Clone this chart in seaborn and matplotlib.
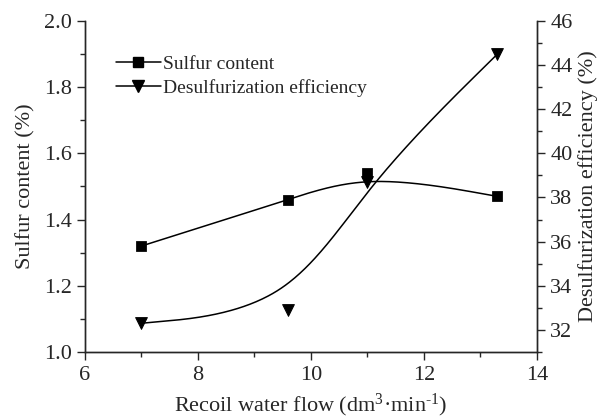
import numpy as np
import matplotlib
matplotlib.use("Agg")
import matplotlib.pyplot as plt
import seaborn as sns
from matplotlib.lines import Line2D
from matplotlib.ticker import MultipleLocator

flow = [7.0, 9.6, 11.0, 13.3]
sulfur = [1.32, 1.46, 1.54, 1.47]
efficiency = [32.3, 32.9, 38.7, 44.5]

sns.set_style("ticks")
plt.rcParams["font.family"] = ["Liberation Serif", "DejaVu Serif"]
plt.rcParams["mathtext.fontset"] = "custom"
plt.rcParams["mathtext.rm"] = "Liberation Serif"
plt.rcParams["mathtext.it"] = "Liberation Serif:italic"


def bspline3(xs, ys, n=80):
    # uniform cubic B-spline, end points repeated so the curve starts/ends on them
    qx = np.r_[[xs[0]] * 2, xs, [xs[-1]] * 2].astype(float)
    qy = np.r_[[ys[0]] * 2, ys, [ys[-1]] * 2].astype(float)
    t = np.linspace(0, 1, n)
    b0 = (1 - t) ** 3 / 6
    b1 = (3 * t ** 3 - 6 * t ** 2 + 4) / 6
    b2 = (-3 * t ** 3 + 3 * t ** 2 + 3 * t + 1) / 6
    b3 = t ** 3 / 6
    out_x, out_y = [], []
    for i in range(len(qx) - 3):
        out_x.append(b0 * qx[i] + b1 * qx[i + 1] + b2 * qx[i + 2] + b3 * qx[i + 3])
        out_y.append(b0 * qy[i] + b1 * qy[i + 1] + b2 * qy[i + 2] + b3 * qy[i + 3])
    return np.concatenate(out_x), np.concatenate(out_y)


sx, sy = bspline3(flow, sulfur)
ex, ey = bspline3(flow, efficiency)

fig = plt.figure(figsize=(6.02, 4.19), dpi=100)
ax = fig.add_axes([0.141, 0.160, 0.751, 0.790])
ax2 = ax.twinx()

sns.lineplot(x=sx, y=sy, ax=ax, color="black", lw=1.1, sort=False)
sns.scatterplot(x=flow, y=sulfur, ax=ax, marker="s", s=48, color="black", edgecolor="black", zorder=3)
sns.lineplot(x=ex, y=ey, ax=ax2, color="black", lw=1.1, sort=False)
sns.scatterplot(x=flow, y=efficiency, ax=ax2, marker="v", s=72, color="black", edgecolor="black", zorder=3)

ax.set_xlim(6, 14)
ax.set_ylim(1.0, 2.0)
ax2.set_ylim(31, 46)
ax.xaxis.set_major_locator(MultipleLocator(2))
ax.xaxis.set_minor_locator(MultipleLocator(1))
ax.yaxis.set_major_locator(MultipleLocator(0.2))
ax.yaxis.set_minor_locator(MultipleLocator(0.1))
ax2.set_yticks([32, 34, 36, 38, 40, 42, 44, 46])
ax2.yaxis.set_minor_locator(MultipleLocator(1))

for a in (ax, ax2):
    a.spines["top"].set_visible(False)
    for s in ("left", "right", "bottom"):
        a.spines[s].set_linewidth(1.0)
    a.tick_params(which="major", direction="out", length=6, width=1.0, labelsize=16)
    a.tick_params(which="minor", direction="out", length=3.5, width=1.0)
ax.tick_params(axis="x", pad=4)

ax.set_xlabel("Recoil water flow (dm$^{3}$\u00b7min$^{\u20101}$)", fontsize=16, labelpad=5)
ax.set_ylabel("Sulfur content (%)", fontsize=16, labelpad=6)
ax2.set_ylabel("Desulfurization efficiency (%)", fontsize=16, labelpad=4)

handles = [
    Line2D([], [], color="black", lw=1.1, marker="s", markersize=6.5),
    Line2D([], [], color="black", lw=1.1, marker="v", markersize=8),
]
ax.legend(handles, ["Sulfur content", "Desulfurization efficiency"],
          loc="upper left", bbox_to_anchor=(0.03, 0.95), frameon=False,
          fontsize=14, handlelength=2.3, handletextpad=0.1, labelspacing=0.35)

fig.savefig("out.png", dpi=100)
